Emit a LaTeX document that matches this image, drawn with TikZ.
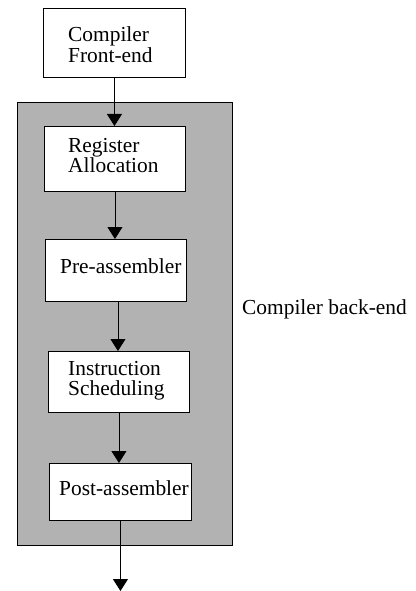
\documentclass[tikz,border=0pt]{standalone}
\usepackage{fontspec}
\setmainfont{Liberation Serif}
\usetikzlibrary{arrows.meta}
\tikzset{
  stage/.style={draw=black, line width=0.9pt, fill=white, anchor=north west, inner sep=0pt},
  txt/.style={anchor=base west, inner sep=0pt, font=\fontsize{21.4pt}{21pt}\selectfont},
  flow/.style={line width=0.9pt, -{Triangle[width=15pt,length=12pt]}},
  backend/.style={draw=black, line width=0.9pt, fill=black!30}
}
\begin{document}
\begin{tikzpicture}[x=1pt,y=-1pt]
\useasboundingbox (0,0) rectangle (415,591);
% shaded back-end region
\filldraw[backend] (17,102) rectangle (232,545);
% stages
\node[stage, minimum width=142pt, minimum height=69pt] (fe) at (43,8) {};
\node[stage, minimum width=141pt, minimum height=65pt] (ra) at (44,126) {};
\node[stage, minimum width=141pt, minimum height=62pt] (pre) at (45,239) {};
\node[stage, minimum width=141pt, minimum height=61pt] (is) at (48,351) {};
\node[stage, minimum width=142pt, minimum height=57pt] (post) at (49,463) {};
% stage labels
\node[txt] (fe1) at (68,42) {Compiler};
\node[txt] (fe2) at (68,63) {Front-end};
\node[txt] (ra1) at (68,152) {Register};
\node[txt] (ra2) at (68,172) {Allocation};
\node[txt] (pre1) at (60,273) {Pre-assembler};
\node[txt] (is1) at (68,375) {Instruction};
\node[txt] (is2) at (68,395) {Scheduling};
\node[txt] (post1) at (59,495) {Post-assembler};
\node[txt] (be) at (242,314) {Compiler back-end};
% connectors
\coordinate (out) at (121,591);
\draw[flow] (fe.south) -- (fe.south |- ra.north);
\draw[flow] (ra.south) -- (ra.south |- pre.north);
\draw[flow] (pre.south) ++(2,0) coordinate (p2) -- (p2 |- is.north);
\draw[flow] (is.south) -- (is.south |- post.north);
\draw[flow] (post.south) -- (post.south |- out);
\end{tikzpicture}
\end{document}
